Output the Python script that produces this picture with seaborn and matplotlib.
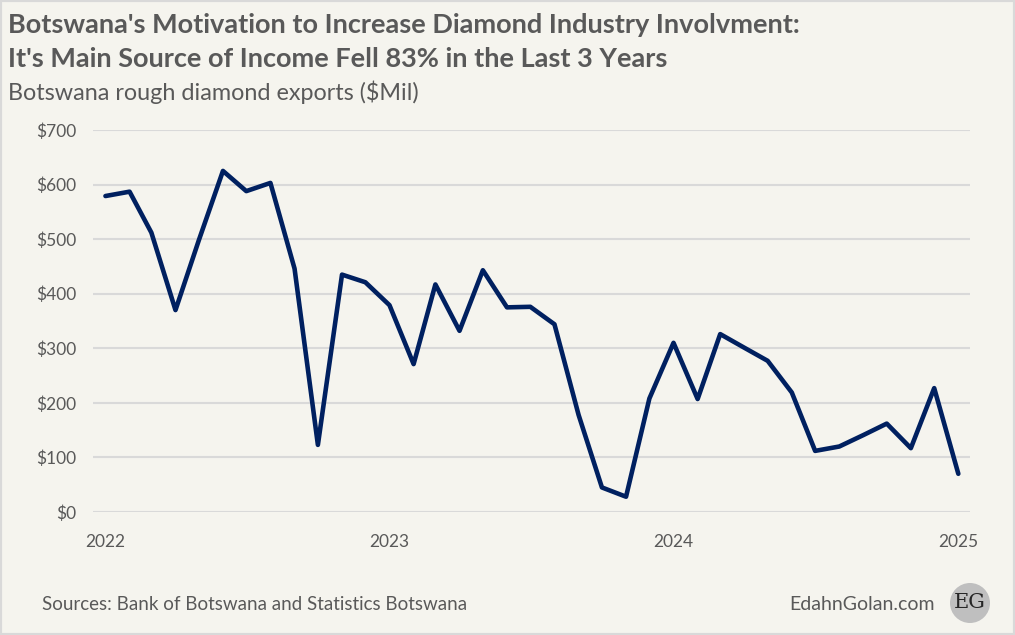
import pandas as pd
import seaborn as sns
import matplotlib.pyplot as plt
from matplotlib.patches import Circle, Rectangle

# Botswana rough diamond exports, $Mil, monthly Jan 2022 - Jan 2025
meses = pd.date_range("2022-01-01", "2025-01-01", freq="MS")
exportacoes = [
    579, 587, 512, 370, 498, 625, 588, 603, 446, 123, 435, 421,
    379, 271, 417, 332, 443, 375, 376, 344, 178, 45, 28, 208,
    310, 207, 326, 301, 277, 219, 112, 120, 141, 162, 117, 227,
    70,
]
anos = ["2022", "2023", "2024", "2025"]
y_ticks = [0, 100, 200, 300, 400, 500, 600, 700]

df = pd.DataFrame({"Mes": meses, "Exportacoes": exportacoes})

fundo = "#F5F4EE"
cinza_txt = "#595959"
azul = "#002060"

sns.set_style("white", {"axes.facecolor": fundo, "figure.facecolor": fundo})
plt.rcParams["font.family"] = ["Lato", "DejaVu Sans"]

fig = plt.figure(figsize=(10.15, 6.35), dpi=100)
ax = fig.add_axes([93 / 1015, 123 / 635, 877 / 1015, 382 / 635])

sns.lineplot(data=df, x="Mes", y="Exportacoes", ax=ax, color=azul, linewidth=3.3)

ax.set_ylim(0, 700)
ax.set_yticks(y_ticks)
ax.set_yticklabels([f"${v}" for v in y_ticks])
ax.set_xlim(pd.Timestamp("2021-12-16"), pd.Timestamp("2025-01-16"))
ax.set_xticks([pd.Timestamp(f"{a}-01-01") for a in anos])
ax.set_xticklabels(anos)
ax.set_xlabel("")
ax.set_ylabel("")
ax.grid(axis="y", color="#D9D9D9", linewidth=1.5)
ax.set_axisbelow(True)
for s in ax.spines.values():
    s.set_visible(False)
ax.tick_params(axis="y", length=0, pad=12, labelsize=12.5, labelcolor=cinza_txt)
ax.tick_params(axis="x", length=0, pad=16, labelsize=12.5, labelcolor=cinza_txt)

# Titulos
fig.text(8 / 1015, 1 - 33 / 635, "Botswana's Motivation to Increase Diamond Industry Involvment:",
         fontsize=19.5, fontweight="bold", color=cinza_txt, va="baseline")
fig.text(8 / 1015, 1 - 67 / 635, "It's Main Source of Income Fell 83% in the Last 3 Years",
         fontsize=19.5, fontweight="bold", color=cinza_txt, va="baseline")
fig.text(8 / 1015, 1 - 100 / 635, "Botswana rough diamond exports ($Mil)",
         fontsize=16.8, color=cinza_txt, va="baseline")

# Rodape
fig.text(42 / 1015, 1 - 604 / 635, "Sources: Bank of Botswana and Statistics Botswana",
         fontsize=13.5, color=cinza_txt, va="center")
fig.text(935 / 1015, 1 - 604 / 635, "EdahnGolan.com",
         fontsize=14, color=cinza_txt, va="center", ha="right")
circ = Circle((970, 635 - 603), 20, transform=None, facecolor="#BFBFBF", edgecolor="none")
fig.patches.append(circ)
fig.text(970 / 1015, 1 - 603 / 635, "EG", fontsize=15, family="DejaVu Serif",
         color="#262626", ha="center", va="center")

# Borda
fig.patches.append(Rectangle((0, 0), 1, 1, transform=fig.transFigure, fill=False,
                             edgecolor="#D9D9D9", linewidth=3))

fig.savefig("out.png", dpi=100, facecolor=fundo)
